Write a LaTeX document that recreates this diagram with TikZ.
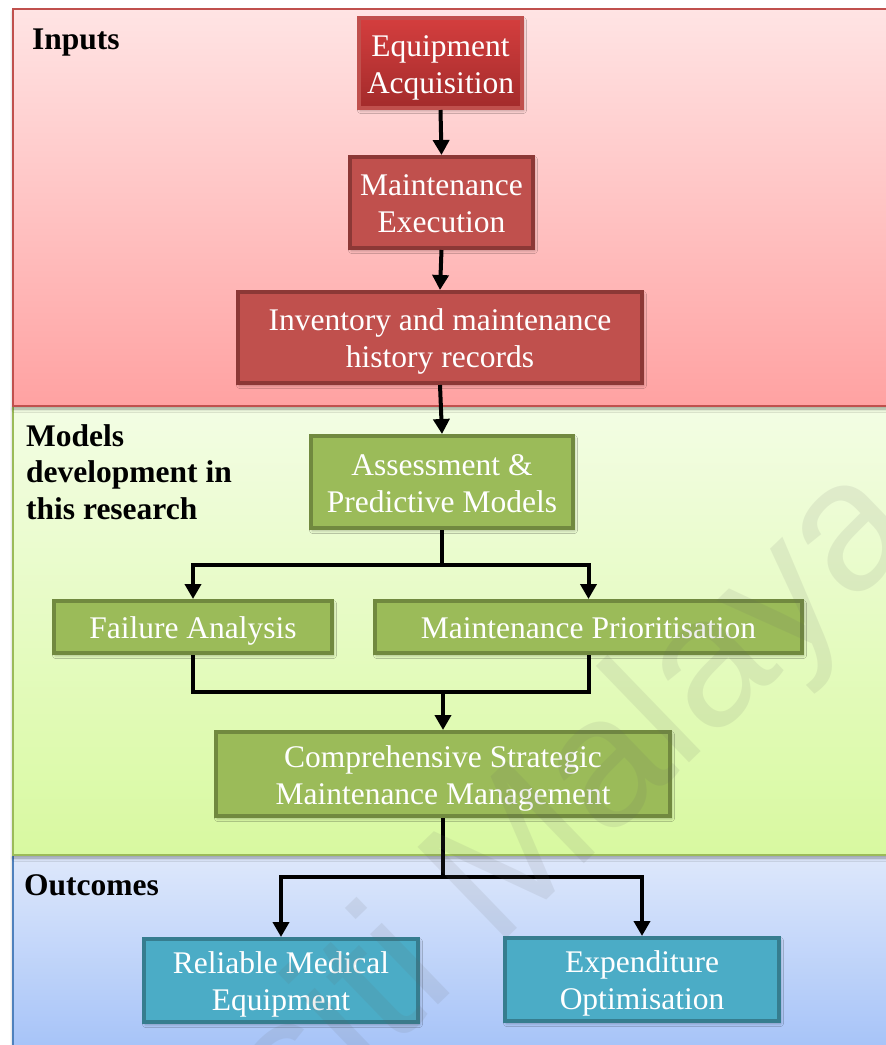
\documentclass[tikz,border=0pt]{standalone}
\usepackage{fontspec}
\setmainfont{Liberation Serif}
\newfontfamily\wmfont{Liberation Sans}
\usetikzlibrary{arrows.meta,shadows.blur,calc}

\definecolor{inTop}{HTML}{FFE4E4}
\definecolor{inBot}{HTML}{FFA2A2}
\definecolor{inEdge}{HTML}{C0504D}
\definecolor{mdTop}{HTML}{F3FDE4}
\definecolor{mdBot}{HTML}{D8F9A0}
\definecolor{mdEdge}{HTML}{9BBB59}
\definecolor{ocTop}{HTML}{DEE8FB}
\definecolor{ocBot}{HTML}{A3C1F8}
\definecolor{ocEdge}{HTML}{4F81BD}
\definecolor{redFill}{HTML}{C0504D}
\definecolor{redLine}{HTML}{8C3836}
\definecolor{redTop}{HTML}{D43E3E}
\definecolor{redBot}{HTML}{A32B2B}
\definecolor{grnFill}{HTML}{9BBB59}
\definecolor{grnLine}{HTML}{71893F}
\definecolor{tealFill}{HTML}{4BACC6}
\definecolor{tealLine}{HTML}{367D8F}

\tikzset{
  panel/.style={line width=1.6pt, blur shadow={shadow xshift=0pt, shadow yshift=-3pt, shadow blur radius=3pt, shadow opacity=35}},
  heading/.style={anchor=north west, inner sep=0pt, align=left, font=\bfseries\fontsize{31.5}{36.5}\selectfont},
  % text box: baseline of the last line, fixed ascent and descent
  box/.style={draw, line width=4pt, inner sep=0pt, align=center, text=white,
    font=\fontsize{31.5}{37}\selectfont, text height=31pt, text depth=8pt,
    blur shadow={shadow xshift=1.5pt, shadow yshift=-2.5pt, shadow blur radius=3pt, shadow opacity=30}},
  twolines/.style={text height=68pt},
  redbox/.style={box, fill=redFill, draw=redLine},
  topbox/.style={box, draw=redFill, top color=redTop, bottom color=redBot},
  grnbox/.style={box, fill=grnFill, draw=grnLine},
  tealbox/.style={box, fill=tealFill, draw=tealLine},
  link/.style={line width=4pt, line join=miter},
  conn/.style={link, -{Triangle[length=15pt,width=16pt]}}
}

\begin{document}
\begin{tikzpicture}[x=1pt,y=-1pt]
\useasboundingbox (0,0) rectangle (886,1045);

% three bands: outcomes, models, inputs (upper bands cast shadows on lower ones)
\begin{scope}
  \clip (0,0) rectangle (886,1045);
  \shade[panel, draw=ocEdge, top color=ocTop, bottom color=ocBot] (13,855) rectangle (900,1060);
  \shade[panel, draw=mdEdge, top color=mdTop, bottom color=mdBot] (13,406) rectangle (900,855);
  \shade[panel, draw=inEdge, top color=inTop, bottom color=inBot] (13,9) rectangle (900,406);
\end{scope}

% band headings
\node[heading] (hin) at (32,29) {Inputs};
\node[heading] (hmd) at (26,424) {Models\\development in\\this research};
\node[heading] (hoc) at (24,874) {Outcomes};

% process boxes
\node[topbox, twolines, minimum width=163pt, minimum height=90pt] (equip) at (440.5,63) {Equipment\\Acquisition};
\node[redbox, twolines, minimum width=183pt, minimum height=91pt] (exec) at (441.5,202.5) {Maintenance\\Execution};
\node[redbox, twolines, minimum width=404pt, minimum height=91pt] (inv) at (440,337.5) {Inventory and maintenance\\history records};
\node[grnbox, twolines, minimum width=262pt, minimum height=92pt] (assess) at (442,482) {Assessment \&\\Predictive Models};
\node[grnbox, minimum width=278pt, minimum height=52pt] (fail) at (193,627) {Failure Analysis};
\node[grnbox, minimum width=427pt, minimum height=52pt] (prior) at (588.5,627) {Maintenance Prioritisation};
\node[grnbox, twolines, minimum width=454pt, minimum height=84pt] (comp) at (443,774) {Comprehensive Strategic\\Maintenance Management};
\node[tealbox, twolines, minimum width=274pt, minimum height=83pt] (rel) at (281,980.5) {Reliable Medical\\Equipment};
\node[tealbox, twolines, minimum width=274pt, minimum height=83pt] (expo) at (642,979.5) {Expenditure\\Optimisation};

% connectors
\draw[conn] (equip.south) -- (exec.north);
\draw[conn] (exec.south) -- (inv.north);
\draw[conn] (inv.south) -- (assess.north);

\coordinate (split) at ($(assess.south)+(0,35)$);
\draw[link] (assess.south) -- (split);
\draw[conn] (split) -| (fail.north);
\draw[conn] (split) -| (prior.north);

\coordinate (merge) at ($(fail.south)+(0,37)$);
\draw[link] (fail.south) -- (merge) -| (prior.south);
\draw[conn] (merge -| comp.north) -- (comp.north);

\coordinate (fork) at ($(comp.south)+(0,59)$);
\draw[link] (comp.south) -- (fork);
\draw[conn] (fork) -| (rel.north);
\draw[conn] (fork) -| (expo.north);

% faint diagonal watermark
\begin{scope}
  \clip (0,0) rectangle (886,1045);
  \node[anchor=base east, rotate=44, text=black!60, opacity=0.11, inner sep=0pt,
        font=\wmfont\fontsize{185}{185}\selectfont] (wm) at (925,535) {Universiti Malaya};
\end{scope}
\end{tikzpicture}
\end{document}
